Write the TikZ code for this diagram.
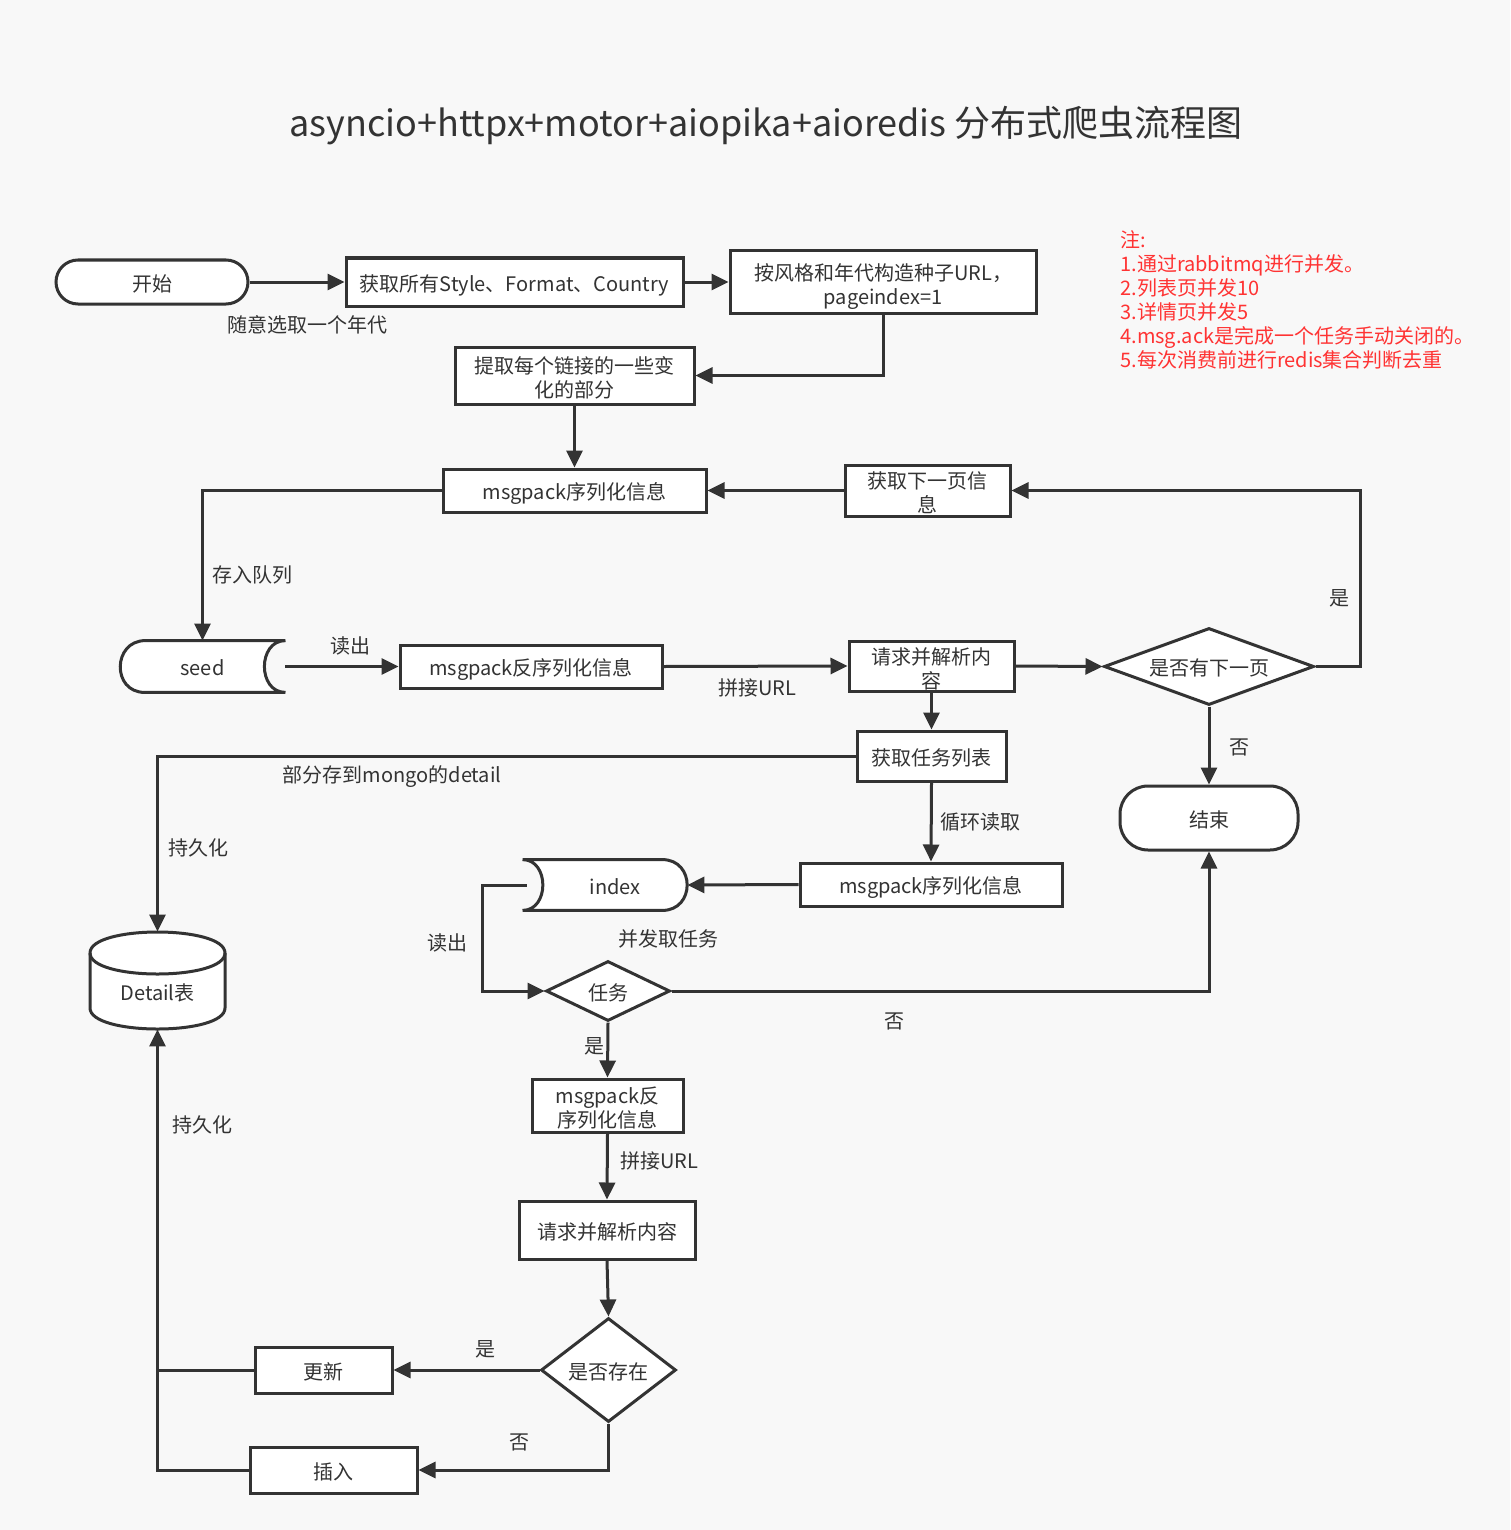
\documentclass[tikz,border=0pt]{standalone}
\usepackage{fontspec}
\setmainfont{Noto Sans CJK SC}
\usetikzlibrary{arrows.meta,shapes.geometric,calc,backgrounds}
\definecolor{bgc}{HTML}{F8F8F8}
\definecolor{lc}{HTML}{333333}
\definecolor{tc}{HTML}{333333}
\definecolor{notec}{HTML}{FF3333}
\newcommand{\fsn}{\fontsize{10pt}{12pt}\selectfont}
\begin{document}
\begin{tikzpicture}[x=0.5pt,y=-0.5pt,
  base/.style={draw=lc, line width=1.5pt, fill=white, inner sep=0pt, align=center, font=\fsn, text=tc},
  one/.style={text height=10.5pt, text depth=1.3pt},
  two/.style={text height=22.2pt, text depth=0pt},
  box/.style={base, rectangle},
  term/.style={base, rectangle, rounded corners=#1},
  dia/.style={base, diamond, aspect=#1},
  ghost/.style={inner sep=0pt, align=center, font=\fsn, text=tc},
  shp/.style={draw=lc, line width=1.5pt, fill=white},
  arr/.style={draw=lc, line width=1.5pt, -{Triangle[length=8.5pt,width=8pt]}},
  ln/.style={draw=lc, line width=1.5pt},
  lab/.style={inner sep=0pt, font=\fsn, text=tc},
]
\begin{scope}[on background layer]
  \fill[bgc] (0,0) rectangle (1510,1530);
\end{scope}
\useasboundingbox (0,0) rectangle (1510,1530);

% title
\node[lab, font=\fontsize{18pt}{22pt}\selectfont] (title) at (766,126) {asyncio+httpx+motor+aiopika+aioredis 分布式爬虫流程图};

% note
\node[lab, text=notec, anchor=north west, align=left] (note) at (1120,230) {注:\\1.通过rabbitmq进行并发。\\2.列表页并发10\\3.详情页并发5\\4.msg.ack是完成一个任务手动关闭的。\\5.每次消费前进行redis集合判断去重};

% nodes
\node[term=11pt, one, minimum width=96pt, minimum height=22pt] (start) at (152,282) {开始};
\node[box, one, minimum width=168.5pt, minimum height=24pt] (getall) at (514.5,282) {获取所有Style、Format、Country};
\node[box, two, minimum width=153pt, minimum height=31pt] (seedurl) at (883,282) {按风格和年代构造种子URL，\\pageindex=1};
\node[box, two, minimum width=119.5pt, minimum height=28.5pt] (extract) at (574.5,375.5) {提取每个链接的一些变\\化的部分};
\node[box, one, minimum width=131.5pt, minimum height=21.5pt] (ser1) at (574.5,490.5) {msgpack序列化信息};
\node[box, two, minimum width=82.5pt, minimum height=25.5pt] (nextpage) at (927.5,490.5) {获取下一页信\\息};

% seed (stored data)
\node[ghost, one, minimum width=82.5pt, minimum height=25.5pt] (seed) at (202.5,666.5) {seed};
\begin{scope}[on background layer]
\draw[shp] (seed.north east) -- ([xshift=-70pt]seed.north east)
  .. controls +(-33,0) and +(-33,0) .. ([xshift=12.5pt]seed.south west)
  -- (seed.south east) .. controls +(-28,0) and +(-28,0) .. (seed.north east) -- cycle;
\end{scope}

\node[box, one, minimum width=131pt, minimum height=21.5pt] (deser1) at (531,666.5) {msgpack反序列化信息};
\node[box, two, minimum width=82.5pt, minimum height=25pt] (req1) at (931.5,666) {请求并解析内\\容};
\node[dia=2.73, one, minimum width=105pt, minimum height=38.5pt] (hasnext) at (1209,666.5) {是否有下一页};
\node[term=14pt, one, minimum width=89pt, minimum height=32pt] (end) at (1209,818) {结束};
\node[box, one, minimum width=74.5pt, minimum height=25pt] (tasks) at (931.5,756) {获取任务列表};
\node[box, one, minimum width=131pt, minimum height=21.5pt] (ser2) at (931,884.5) {msgpack序列化信息};

% index (stored data, mirrored)
\node[ghost, one, minimum width=82pt, minimum height=25pt] (index) at (605,885) {\hspace*{10pt}index};
\begin{scope}[on background layer]
\draw[shp] (index.north west) -- ([xshift=-12.5pt]index.north east)
  .. controls +(33,0) and +(33,0) .. ([xshift=-12.5pt]index.south east)
  -- (index.south west) .. controls +(27,0) and +(27,0) .. (index.north west) -- cycle;
\end{scope}

\node[dia=2.07, one, minimum width=62pt, minimum height=30pt] (task) at (608,991) {任务};
\node[box, two, minimum width=75.5pt, minimum height=26.5pt] (deser2) at (607.5,1105.5) {msgpack反\\序列化信息};
\node[box, one, minimum width=88pt, minimum height=29pt] (req2) at (607,1230) {请求并解析内容};
\node[dia=1.3, one, minimum width=67.5pt, minimum height=52pt] (exists) at (608.5,1370) {是否存在};
\node[box, one, minimum width=68.5pt, minimum height=23pt] (update) at (323.5,1370) {更新};
\node[box, one, minimum width=83.5pt, minimum height=23pt] (insert) at (333.5,1470) {插入};

% Detail cylinder
\node[ghost, minimum width=67.5pt, minimum height=48.5pt] (detail) at (157.5,980.5) {};
\node[lab] (detaillbl) at (157.5,993) {Detail表};
\begin{scope}[on background layer]
\draw[shp] (90,953) -- (90,1008) .. controls (90,1036) and (225,1036) .. (225,1008)
  -- (225,953) .. controls (225,925) and (90,925) .. (90,953) -- cycle;
\draw[ln] (90,953) .. controls (90,981) and (225,981) .. (225,953);
\end{scope}

% connectors
\draw[arr] (start.east) -- (getall.west);
\draw[arr] (getall.east) -- (seedurl.west);
\draw[arr] (seedurl.south) |- (extract.east);
\draw[arr] (extract.south) -- (ser1.north);
\draw[arr] (nextpage.west) -- (ser1.east);
\draw[arr] (ser1.west) -| (seed.north);
\draw[arr] (seed.east) -- (deser1.west);
\draw[arr] (deser1.east) -- (req1.west);
\draw[arr] (req1.east) -- (hasnext.west);
\draw[arr] (hasnext.east) -- ++(45,0) coordinate (loopc) |- (nextpage.east);
\draw[arr] (hasnext.south) -- (end.north);
\draw[arr] (req1.south) -- (tasks.north);
\draw[arr] (tasks.west) -| (detail.north);
\draw[arr] (tasks.south) -- (ser2.north);
\draw[arr] (ser2.west) -- (index.east);
\draw[arr] ([xshift=2pt]index.west) -- ++(-44,0) coordinate (readc) |- (task.west);
\draw[arr] (task.east) -| (end.south);
\draw[arr] (task.south) -- (deser2.north);
\draw[arr] (deser2.south) -- (req2.north);
\draw[arr] (req2.south) -- (exists.north);
\draw[arr] (exists.west) -- (update.east);
\draw[arr] (exists.south) |- (insert.east);
\draw[ln] (update.west) -- (update.west -| detail.center);
\draw[arr] (insert.west) -| (detail.south);

% labels
\node[lab] (l1) at (307,325) {随意选取一个年代};
\node[lab] (l2) at (252,575) {存入队列};
\node[lab] (l3) at (350,646) {读出};
\node[lab] (l4) at (757,688) {拼接URL};
\node[lab] (l5) at (1339,598) {是};
\node[lab] (l6) at (1239,747) {否};
\node[lab] (l7) at (392,777) {部分存到mongo的detail};
\node[lab] (l8) at (198,848) {持久化};
\node[lab] (l9) at (980,822) {循环读取};
\node[lab] (l10) at (447,943) {读出};
\node[lab] (l11) at (668,939) {并发取任务};
\node[lab] (l12) at (894,1021) {否};
\node[lab] (l13) at (594,1046) {是};
\node[lab] (l14) at (659,1161) {拼接URL};
\node[lab] (l15) at (202,1125) {持久化};
\node[lab] (l16) at (485,1349) {是};
\node[lab] (l17) at (519,1442) {否};
\end{tikzpicture}
\end{document}
